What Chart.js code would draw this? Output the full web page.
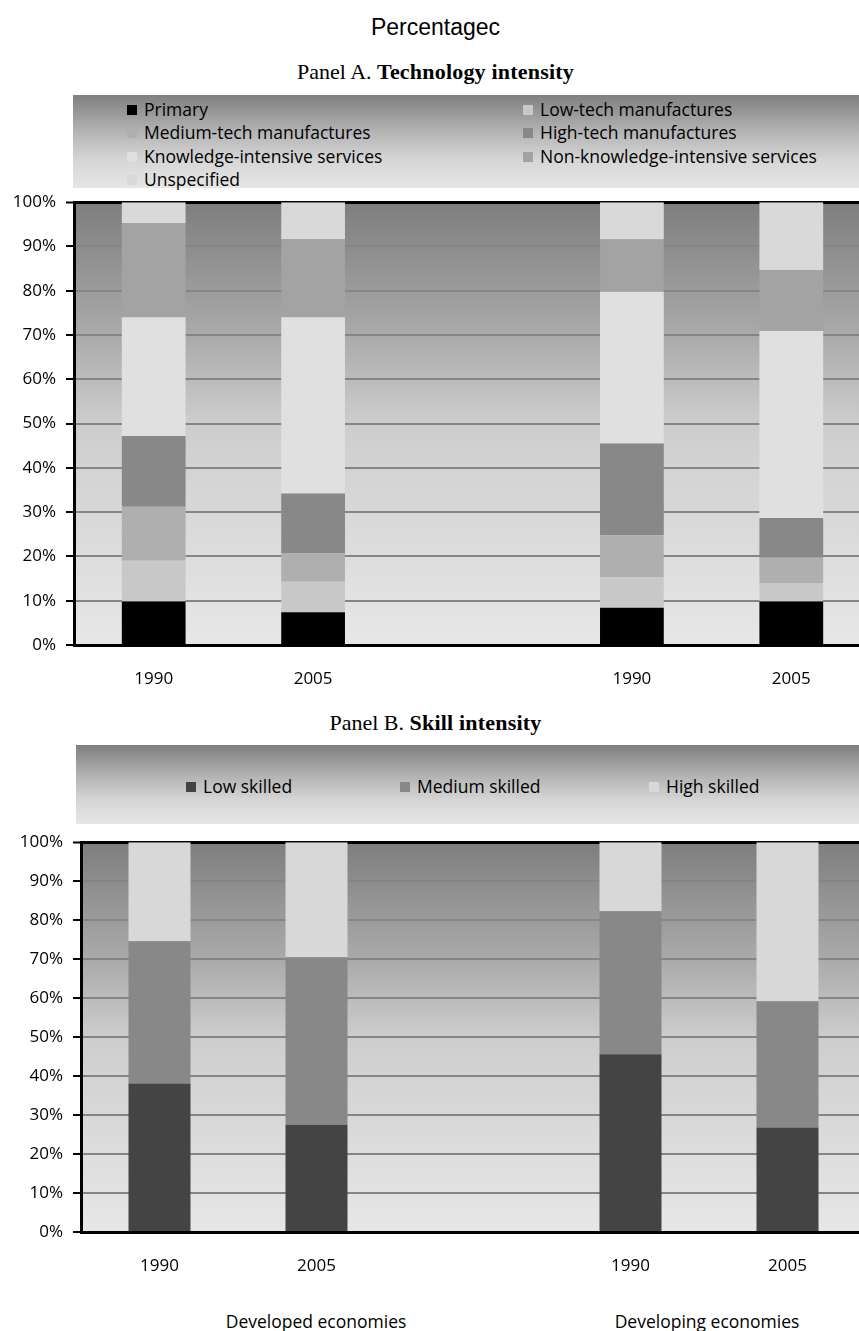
<!DOCTYPE html>
<html>
<head>
<meta charset="utf-8">
<script src="https://cdn.jsdelivr.net/npm/chart.js@4.4.1/dist/chart.umd.min.js"></script>
<style>
  html, body { margin: 0; padding: 0; background: #fff; overflow: hidden; }
  body { width: 859px; height: 1331px; position: relative; font-family: 'Open Sans', sans-serif; }
  .title { position: absolute; left: 0; width: 871px; text-align: center; white-space: nowrap; }
  #mainTitle { top: 14px; font-family: 'Liberation Sans', Arial, sans-serif; font-size: 23px; }
  .panel { font-family: 'Liberation Serif', 'Times New Roman', serif; font-size: 22px; }
  .panel b { letter-spacing: 0.2px; }
  #panelATitle { top: 59px; }
  #panelBTitle { top: 710px; }
  .legendBox { position: absolute; right: 0; background: linear-gradient(#7f7f7f, #b4b4b4 40%, #d6d6d6 70%, #e6e6e6); }
  #legendA { left: 73px; top: 95px; height: 93px; }
  #legendB { left: 76px; top: 745px; height: 79px; }
  .item { position: absolute; font-size: 17.5px; line-height: 20px; white-space: nowrap; color: #000; }
  .item span.mk { display: inline-block; width: 10px; height: 10px; margin-right: 7px; vertical-align: 1px; }
  canvas { position: absolute; left: 0; }
  #chartA { top: 182px; }
  #chartB { top: 822px; }
  .group { position: absolute; top: 1309px; font-size: 17.5px; transform: translateX(-50%); white-space: nowrap; }
</style>
</head>
<body>
<div class="title" id="mainTitle">Percentagec</div>
<div class="title panel" id="panelATitle">Panel A. <b>Technology intensity</b></div>
<div class="legendBox" id="legendA"></div>
<canvas id="chartA" width="871" height="518"></canvas>
<div class="title panel" id="panelBTitle">Panel B. <b>Skill intensity</b></div>
<div class="legendBox" id="legendB"></div>
<canvas id="chartB" width="866" height="465"></canvas>
<div class="group" style="left:316px">Developed economies</div>
<div class="group" style="left:707px">Developing economies</div>

<script>
// categories (empty slot separates the two economy groups)
const categories = ['1990', '2005', '', '1990', '2005'];
const yTicks = [0, 10, 20, 30, 40, 50, 60, 70, 80, 90, 100];

// Panel A - technology intensity (% share)
const techSeries = ['Primary', 'Low-tech manufactures', 'Medium-tech manufactures', 'High-tech manufactures',
  'Knowledge-intensive services', 'Non-knowledge-intensive services', 'Unspecified'];
const primary = [9.8, 7.4, null, 8.4, 9.8];
const lowTech = [9.2, 6.9, null, 6.9, 4.2];
const mediumTech = [12.2, 6.5, null, 9.5, 5.7];
const highTech = [16.0, 13.4, null, 20.7, 9.0];
const knowledgeServices = [26.8, 39.8, null, 34.3, 42.2];
const otherServices = [21.3, 17.7, null, 11.8, 13.8];
const unspecified = [4.7, 8.3, null, 8.4, 15.3];
const techColors = ['#000000', '#c8c8c8', '#afafaf', '#888888', '#e0e0e0', '#a3a3a3', '#d9d9d9'];

// Panel B - skill intensity (% share)
const skillSeries = ['Low skilled', 'Medium skilled', 'High skilled'];
const lowSkilled = [38.1, 27.5, null, 45.6, 26.8];
const mediumSkilled = [36.5, 43.0, null, 36.7, 32.4];
const highSkilled = [25.4, 29.5, null, 17.7, 40.8];
const skillColors = ['#444444', '#888888', '#d8d8d8'];

Chart.defaults.font.family = "'Open Sans', sans-serif";
Chart.defaults.color = '#000';

const plotBackground = {
  id: 'plotBackground',
  beforeDraw(chart) {
    const { ctx, chartArea: a } = chart;
    const g = ctx.createLinearGradient(0, a.top, 0, a.bottom);
    g.addColorStop(0, '#7e7e7e');
    g.addColorStop(0.3, '#aaaaaa');
    g.addColorStop(0.5, '#cdcdcd');
    g.addColorStop(0.6, '#d3d3d3');
    g.addColorStop(1, '#e7e7e7');
    ctx.save();
    ctx.fillStyle = g;
    ctx.fillRect(a.left, a.top, a.right - a.left, a.bottom - a.top);
    ctx.restore();
  }
};

function makeDatasets(names, values, colors, barPct) {
  return names.map((name, i) => ({
    label: name,
    data: values[i],
    backgroundColor: colors[i],
    borderWidth: 0,
    barPercentage: barPct,
    categoryPercentage: 1
  }));
}

function makeChart(id, datasets, axisWidth) {
  return new Chart(document.getElementById(id), {
    type: 'bar',
    data: { labels: categories, datasets },
    plugins: [plotBackground],
    options: {
      responsive: false,
      animation: false,
      devicePixelRatio: 1,
      layout: { padding: { top: 12, right: 0, bottom: 0, left: 0 } },
      plugins: { legend: { display: false }, tooltip: { enabled: false } },
      scales: {
        x: {
          stacked: true,
          grid: { display: false },
          border: { display: true, color: '#000', width: 3 },
          ticks: { padding: 16, font: { size: 17 }, color: '#000' },
          afterFit: (s) => { s.height = 55; }
        },
        y: {
          stacked: true,
          min: 0,
          max: 100,
          afterBuildTicks: (s) => { s.ticks = yTicks.map((v) => ({ value: v })); },
          grid: {
            color: (c) => (c.tick && c.tick.value === 100 ? '#000' : '#858585'),
            lineWidth: (c) => (c.tick && c.tick.value === 100 ? 3 : 2),
            tickColor: '#000',
            tickWidth: 2,
            tickLength: 8
          },
          border: { display: true, color: '#000', width: 3 },
          ticks: { padding: 10, font: { size: 17 }, color: '#000', callback: (v) => v + '%' },
          afterFit: (s) => { s.width = axisWidth; }
        }
      }
    }
  });
}

function buildLegend(boxId, names, colors, positions) {
  const box = document.getElementById(boxId);
  names.forEach((name, i) => {
    const el = document.createElement('div');
    el.className = 'item';
    el.style.left = positions[i][0] + 'px';
    el.style.top = positions[i][1] + 'px';
    el.innerHTML = `<span class="mk" style="background:${colors[i]}"></span>${name}`;
    box.appendChild(el);
  });
}

const chartA = makeChart('chartA', makeDatasets(techSeries,
  [primary, lowTech, mediumTech, highTech, knowledgeServices, otherServices, unspecified], techColors, 0.4), 74);
const chartB = makeChart('chartB', makeDatasets(skillSeries,
  [lowSkilled, mediumSkilled, highSkilled], skillColors, 0.395), 81);

// legend layout (relative to each legend box)
buildLegend('legendA', chartA.data.datasets.map((d) => d.label), chartA.data.datasets.map((d) => d.backgroundColor), [
  [54, 4], [450, 4], [54, 27], [450, 27], [54, 51], [450, 51], [54, 74]
]);
buildLegend('legendB', chartB.data.datasets.map((d) => d.label), chartB.data.datasets.map((d) => d.backgroundColor), [
  [110, 31], [324, 31], [573, 31]
]);
</script>
</body>
</html>
